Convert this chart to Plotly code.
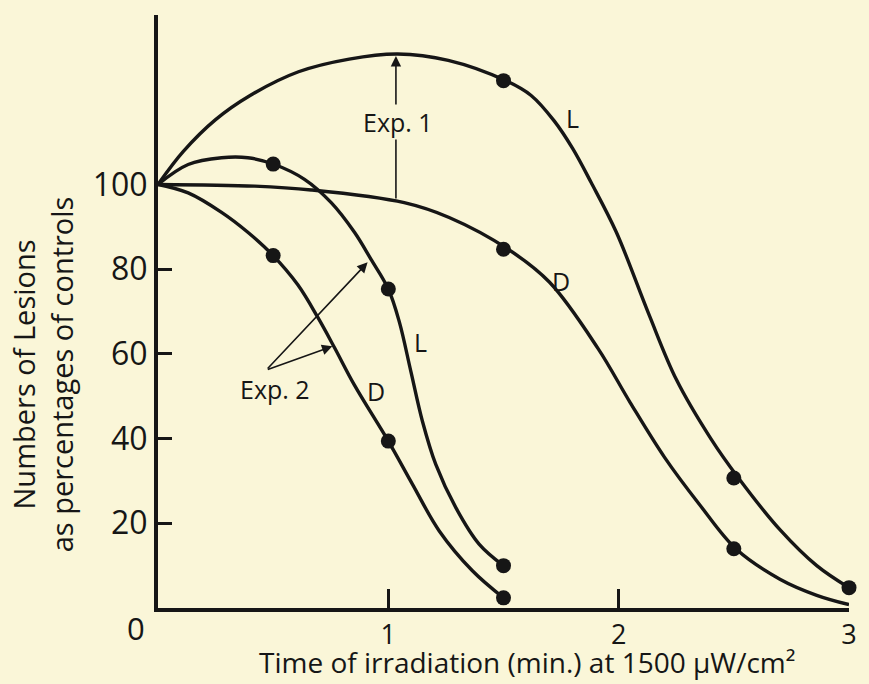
import plotly.graph_objects as go

# ---------------- data ----------------
# Exp. 1, curve L (smooth curve drawn through the points)
exp1_L_curve_x = [0, 0.11, 0.25, 0.40, 0.61, 0.83, 1.04, 1.26, 1.51, 1.62, 1.72, 1.80, 1.88, 1.99, 2.13, 2.25, 2.40, 2.52, 2.70, 2.86, 3.0]
exp1_L_curve_y = [100, 107.8, 115.3, 121.0, 126.6, 129.6, 130.8, 129.3, 124.5, 121.0, 115.0, 108.5, 100.5, 88.7, 69.5, 54.0, 40.0, 30.7, 18.5, 10.0, 4.8]
# Exp. 1, curve D
exp1_D_curve_x = [0, 0.42, 0.665, 1.069, 1.264, 1.52, 1.70, 1.91, 2.05, 2.20, 2.35, 2.51, 2.70, 2.86, 3.0]
exp1_D_curve_y = [100, 99.6, 98.7, 95.7, 92.2, 84.7, 76.9, 61.3, 48.5, 35.5, 24.5, 13.9, 6.8, 3.0, 0.8]
# Exp. 2, curve L
exp2_L_curve_x = [0, 0.131, 0.276, 0.39, 0.506, 0.636, 0.752, 0.853, 0.925, 1.0, 1.048, 1.098, 1.148, 1.206, 1.293, 1.394, 1.5]
exp2_L_curve_y = [100, 104.7, 106.3, 106.3, 104.7, 101.2, 95.7, 88.7, 82.3, 75.3, 67.5, 55.8, 44.1, 33.9, 23.7, 15.1, 10.0]
# Exp. 2, curve D
exp2_D_curve_x = [0, 0.131, 0.276, 0.39, 0.5, 0.607, 0.694, 0.766, 0.853, 1.0, 1.105, 1.221, 1.365, 1.5]
exp2_D_curve_y = [100, 98.0, 93.4, 88.7, 83.2, 76.3, 68.6, 61.5, 52.6, 39.4, 29.2, 18.2, 8.8, 2.4]

# measured points (filled circles)
exp1_L_pts_x = [1.5, 2.5, 3.0]
exp1_L_pts_y = [124.5, 30.7, 4.8]
exp1_D_pts_x = [1.5, 2.5]
exp1_D_pts_y = [84.7, 14.0]
exp2_L_pts_x = [0.5, 1.0, 1.5]
exp2_L_pts_y = [104.8, 75.3, 10.0]
exp2_D_pts_x = [0.5, 1.0, 1.5]
exp2_D_pts_y = [83.2, 39.4, 2.4]

x_tick_vals = [1, 2, 3]
x_tick_text = ["1", "2", "3"]
y_tick_vals = [20, 40, 60, 80, 100]
y_tick_text = ["20", "40", "60", "80", "100"]

X_MAX = 3.0
Y_MAX = 140.0

# ---------------- styling ----------------
INK = "#161616"
BG = "#FAF6D8"
FONT = "Open Sans"
MARGIN_T, MARGIN_B = 15, 76
PLOT_H = 684 - MARGIN_T - MARGIN_B


def paper_y_below(px_below_axis):
    """paper y coordinate for a point px_below_axis pixels under the x axis"""
    return -px_below_axis / PLOT_H


fig = go.Figure()

curves = [
    (exp1_L_curve_x, exp1_L_curve_y),
    (exp1_D_curve_x, exp1_D_curve_y),
    (exp2_L_curve_x, exp2_L_curve_y),
    (exp2_D_curve_x, exp2_D_curve_y),
]
for cx, cy in curves:
    fig.add_trace(go.Scatter(
        x=cx, y=cy, mode="lines",
        line=dict(color=INK, width=3.4, shape="spline", smoothing=1.0),
        hoverinfo="skip", showlegend=False, cliponaxis=False,
    ))

points = [
    (exp1_L_pts_x, exp1_L_pts_y),
    (exp1_D_pts_x, exp1_D_pts_y),
    (exp2_L_pts_x, exp2_L_pts_y),
    (exp2_D_pts_x, exp2_D_pts_y),
]
for px, py in points:
    fig.add_trace(go.Scatter(
        x=px, y=py, mode="markers",
        marker=dict(color=INK, size=15, line=dict(width=0)),
        showlegend=False, cliponaxis=False,
    ))

annotations = []
# Exp. 1 arrow (from D curve up to L curve)
annotations.append(dict(
    x=1.033, y=130.3, ax=1.033, ay=96.3, xref="x", yref="y", axref="x", ayref="y",
    text="", showarrow=True, arrowhead=2, arrowsize=1.3, arrowwidth=1.6, arrowcolor=INK,
    standoff=0, startstandoff=0,
))
annotations.append(dict(
    x=1.04, y=114.8, xref="x", yref="y", text="Exp. 1", showarrow=False,
    font=dict(family=FONT, size=25, color=INK), bgcolor=BG, borderpad=0,
))
# Exp. 2 arrows
annotations.append(dict(
    x=0.91, y=81.6, ax=0.47, ay=56.2, xref="x", yref="y", axref="x", ayref="y",
    text="", showarrow=True, arrowhead=2, arrowsize=1.3, arrowwidth=1.6, arrowcolor=INK,
))
annotations.append(dict(
    x=0.757, y=61.8, ax=0.47, ay=56.2, xref="x", yref="y", axref="x", ayref="y",
    text="", showarrow=True, arrowhead=2, arrowsize=1.3, arrowwidth=1.6, arrowcolor=INK,
))
annotations.append(dict(
    x=0.51, y=51.6, xref="x", yref="y", text="Exp. 2", showarrow=False,
    font=dict(family=FONT, size=25, color=INK),
))
# curve labels
for lx, ly, lt in [(1.80, 115.6, "L"), (1.75, 77.3, "D"), (1.14, 62.8, "L"), (0.947, 51.3, "D")]:
    annotations.append(dict(
        x=lx, y=ly, xref="x", yref="y", text=lt, showarrow=False,
        font=dict(family=FONT, size=25, color=INK),
    ))
# origin label (outside the plot area -> paper coordinates)
annotations.append(dict(
    x=-0.097 / X_MAX, y=paper_y_below(20), xref="paper", yref="paper",
    xanchor="center", yanchor="middle", text="0", showarrow=False,
    font=dict(family=FONT, size=31, color=INK),
))
# axis titles
annotations.append(dict(
    x=1.60 / X_MAX, y=paper_y_below(54), xref="paper", yref="paper",
    xanchor="center", yanchor="middle",
    text="Time of irradiation (min.) at 1500 \u03bcW/cm\u00b2", showarrow=False,
    font=dict(family=FONT, size=28, color=INK),
))
annotations.append(dict(
    x=-0.503 / X_MAX, y=55.2 / Y_MAX, xref="paper", yref="paper", textangle=-90,
    xanchor="center", yanchor="middle",
    text="Numbers of Lesions<br>as percentages of controls", showarrow=False,
    font=dict(family=FONT, size=29, color=INK),
))

fig.update_layout(
    width=869, height=684,
    margin=dict(l=158, r=12, t=MARGIN_T, b=MARGIN_B),
    paper_bgcolor=BG, plot_bgcolor=BG,
    showlegend=False,
    annotations=annotations,
    xaxis=dict(
        range=[0, X_MAX], showline=True, linecolor=INK, linewidth=4,
        ticks="inside", ticklen=19, tickwidth=3, tickcolor=INK,
        tickvals=x_tick_vals, ticktext=x_tick_text,
        tickfont=dict(family=FONT, size=27, color=INK),
        showgrid=False, zeroline=False, fixedrange=True,
    ),
    yaxis=dict(
        range=[0, Y_MAX], showline=True, linecolor=INK, linewidth=4,
        ticks="inside", ticklen=14, tickwidth=3, tickcolor=INK,
        tickvals=y_tick_vals, ticktext=y_tick_text,
        tickfont=dict(family=FONT, size=32, color=INK),
        showgrid=False, zeroline=False, fixedrange=True,
    ),
)

fig.write_html(
    "out.html",
    config={"displayModeBar": False},
    post_script="document.body.style.margin='0';document.body.style.background='" + BG + "';",
)
